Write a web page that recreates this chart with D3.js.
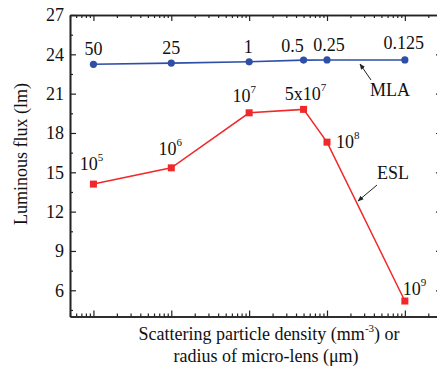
<!DOCTYPE html>
<html>
<head>
<meta charset="utf-8">
<script src="https://cdn.jsdelivr.net/npm/d3@7"></script>
<style>
  body { margin: 0; background: #fff; overflow: hidden; }
  svg { display: block; }
  text { font-family: "Liberation Serif", "Times New Roman", serif; fill: #111; }
</style>
</head>
<body>
<div class="board"></div>
<script>
// ============================
// DATA
// ============================
var xValues = [1e5, 1e6, 1e7, 5e7, 1e8, 1e9];

var mlaValues = [23.24, 23.33, 23.43, 23.56, 23.57, 23.57];
var mlaLabels = ['50', '25', '1', '0.5', '0.25', '0.125'];

var eslValues = [14.1, 15.34, 19.54, 19.8, 17.3, 5.18];
var eslBases = ['10', '10', '10', '5x10', '10', '10'];
var eslExps = ['5', '6', '7', '7', '8', '9'];

var yTicks = [6, 9, 12, 15, 18, 21, 24, 27];


// ============================
// CONTAINER + SCALES
// ============================
var W = 437, H = 371;

var svg = d3.select('.board').append('svg')
            .attr('width', W)
            .attr('height', H);

var x = d3.scaleLog().domain([5e4, 3e9]).range([70, 442]);
var y = d3.scaleLinear().domain([4, 27]).range([316.5, 15]);

var mlaColor = '#2f4fa6';
var eslColor = '#f0282a';
var axisColor = '#222';
var FS = 18;


// ============================
// AXES (ticks point inward, mirrored on top/right)
// ============================
var xMinor = x.ticks().filter(function(d) {
  var m = d / Math.pow(10, Math.floor(Math.log10(d) + 1e-9));
  return Math.abs(m - 1) > 1e-6;
});
var xMajor = x.ticks().filter(function(d) { return xMinor.indexOf(d) < 0; });
var yMinor = d3.range(4.5, 27, 3);

function styleAxis(g) {
  g.attr('font-family', null);
  g.selectAll('path').attr('stroke', axisColor).attr('stroke-width', 1.6);
  g.selectAll('line').attr('stroke', axisColor).attr('stroke-width', 1.2);
}

// bottom
svg.append('g').attr('transform', 'translate(0,' + y.range()[0] + ')')
   .call(d3.axisBottom(x).tickValues(xMajor).tickSizeInner(-6).tickSizeOuter(0).tickFormat(''))
   .call(styleAxis);
svg.append('g').attr('transform', 'translate(0,' + y.range()[0] + ')')
   .call(d3.axisBottom(x).tickValues(xMinor).tickSizeInner(-3).tickSizeOuter(0).tickFormat(''))
   .call(styleAxis);

// top
svg.append('g').attr('transform', 'translate(0,' + y.range()[1] + ')')
   .call(d3.axisTop(x).tickValues(xMajor).tickSizeInner(-6).tickSizeOuter(0).tickFormat(''))
   .call(styleAxis);
svg.append('g').attr('transform', 'translate(0,' + y.range()[1] + ')')
   .call(d3.axisTop(x).tickValues(xMinor).tickSizeInner(-3).tickSizeOuter(0).tickFormat(''))
   .call(styleAxis);

// left
var yAxisG = svg.append('g').attr('transform', 'translate(' + x.range()[0] + ',0)')
   .call(d3.axisLeft(y).tickValues(yTicks).tickSizeInner(-6).tickSizeOuter(0).tickPadding(6))
   .call(styleAxis);
yAxisG.selectAll('text').attr('font-size', FS).attr('fill', '#111');
svg.append('g').attr('transform', 'translate(' + x.range()[0] + ',0)')
   .call(d3.axisLeft(y).tickValues(yMinor).tickSizeInner(-3).tickSizeOuter(0).tickFormat(''))
   .call(styleAxis);

// right
svg.append('g').attr('transform', 'translate(' + x.range()[1] + ',0)')
   .call(d3.axisRight(y).tickValues(yTicks).tickSizeInner(-6).tickSizeOuter(0).tickFormat(''))
   .call(styleAxis);
svg.append('g').attr('transform', 'translate(' + x.range()[1] + ',0)')
   .call(d3.axisRight(y).tickValues(yMinor).tickSizeInner(-3).tickSizeOuter(0).tickFormat(''))
   .call(styleAxis);


// ============================
// AXIS TITLES
// ============================
svg.append('text')
   .attr('transform', 'translate(27,154) rotate(-90)')
   .attr('text-anchor', 'middle')
   .attr('font-size', FS)
   .text('Luminous flux (lm)');

var xt = svg.append('text')
   .attr('x', 269).attr('y', 340)
   .attr('text-anchor', 'middle')
   .attr('font-size', FS);
xt.append('tspan').text('Scattering particle density (mm');
xt.append('tspan').attr('dy', -8).attr('font-size', 11).text('-3');
xt.append('tspan').attr('dy', 8).text(') or');

svg.append('text')
   .attr('x', 266).attr('y', 362)
   .attr('text-anchor', 'middle')
   .attr('font-size', FS)
   .text('radius of micro-lens (\u03bcm)');


// ============================
// SERIES
// ============================
var mlaData = xValues.map(function(d, i) { return { x: d, y: mlaValues[i], i: i }; });
var eslData = xValues.map(function(d, i) { return { x: d, y: eslValues[i], i: i }; });

var line = d3.line().x(function(d) { return x(d.x); }).y(function(d) { return y(d.y); });

svg.append('path').datum(mlaData)
   .attr('d', line).attr('fill', 'none')
   .attr('stroke', mlaColor).attr('stroke-width', 1.6);

svg.selectAll('.mla-pt').data(mlaData).enter().append('circle')
   .attr('class', 'mla-pt')
   .attr('cx', function(d) { return x(d.x); })
   .attr('cy', function(d) { return y(d.y); })
   .attr('r', 3.6)
   .attr('fill', mlaColor);

svg.append('path').datum(eslData)
   .attr('d', line).attr('fill', 'none')
   .attr('stroke', eslColor).attr('stroke-width', 1.5);

svg.selectAll('.esl-pt').data(eslData).enter().append('rect')
   .attr('class', 'esl-pt')
   .attr('x', function(d) { return x(d.x) - 3.5; })
   .attr('y', function(d) { return y(d.y) - 3.5; })
   .attr('width', 7).attr('height', 7)
   .attr('fill', eslColor);


// ============================
// POINT LABELS
// ============================
var mlaLabelShift = [[0, -9], [0, -9], [-1, -9], [-11, -8], [2, -9], [-1, -11]];

svg.selectAll('.mla-lbl').data(mlaData).enter().append('text')
   .attr('class', 'mla-lbl')
   .attr('x', function(d) { return x(d.x) + mlaLabelShift[d.i][0]; })
   .attr('y', function(d) { return y(d.y) + mlaLabelShift[d.i][1]; })
   .attr('text-anchor', 'middle')
   .attr('font-size', FS)
   .text(function(d) { return mlaLabels[d.i]; });

// [dx, dy, anchor]
var eslLabelShift = [[-2, -14, 'middle'], [-1, -13, 'middle'], [-5, -11, 'middle'],
                     [2, -9, 'middle'], [9, 6, 'start'], [-2, -6, 'start']];

eslData.forEach(function(d) {
  var s = eslLabelShift[d.i];
  var t = svg.append('text')
     .attr('x', x(d.x) + s[0])
     .attr('y', y(d.y) + s[1])
     .attr('text-anchor', s[2])
     .attr('font-size', FS);
  t.append('tspan').text(eslBases[d.i]);
  t.append('tspan').attr('dy', -9).attr('font-size', 11).text(eslExps[d.i]);
});


// ============================
// SERIES NAMES + ARROWS
// ============================
svg.append('defs').append('marker')
   .attr('id', 'arrow')
   .attr('viewBox', '0 0 10 10')
   .attr('refX', 9).attr('refY', 5)
   .attr('markerWidth', 6).attr('markerHeight', 6)
   .attr('orient', 'auto')
   .append('path').attr('d', 'M0,1 L10,5 L0,9 Z').attr('fill', '#222');

svg.append('text').attr('x', 370).attr('y', 96).attr('font-size', FS).text('MLA');
svg.append('line')
   .attr('x1', 371).attr('y1', 80).attr('x2', 360).attr('y2', 64)
   .attr('stroke', '#222').attr('stroke-width', 1)
   .attr('marker-end', 'url(#arrow)');

svg.append('text').attr('x', 377).attr('y', 179).attr('font-size', FS).text('ESL');
svg.append('line')
   .attr('x1', 377).attr('y1', 185).attr('x2', 358).attr('y2', 201)
   .attr('stroke', '#222').attr('stroke-width', 1)
   .attr('marker-end', 'url(#arrow)');
</script>
</body>
</html>
